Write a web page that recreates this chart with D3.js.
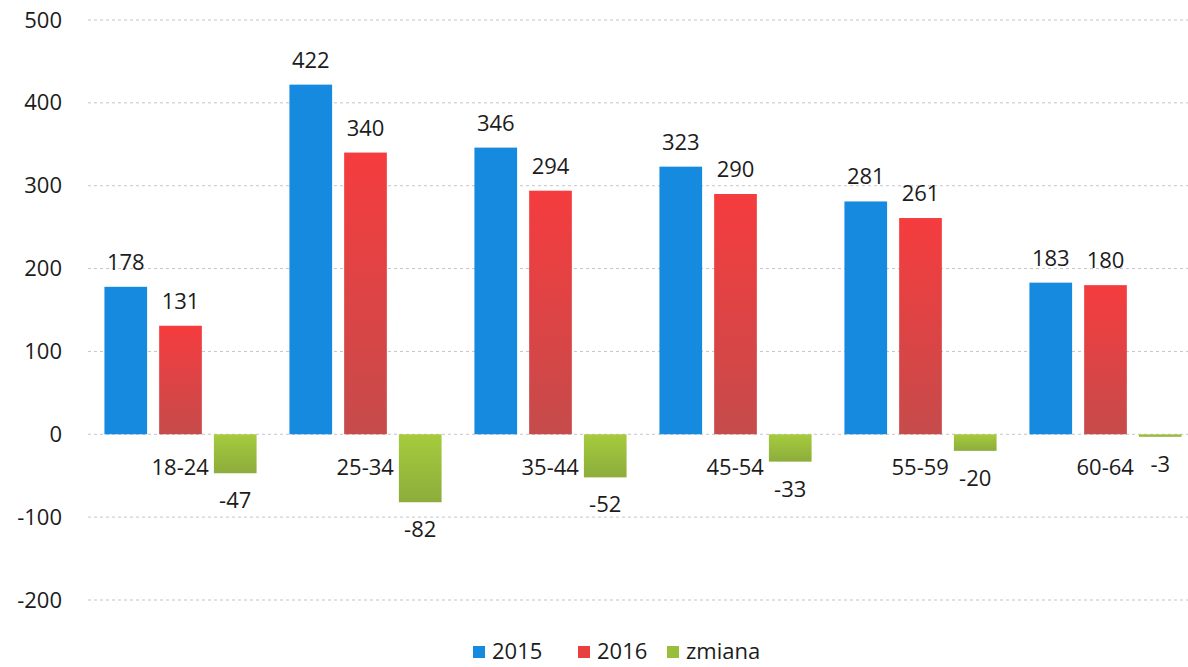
<!DOCTYPE html>
<html><head><meta charset="utf-8">
<script src="https://cdn.jsdelivr.net/npm/d3@7"></script>
<style>body{margin:0;background:#fff}svg{display:block}text{font-family:"Open Sans",sans-serif;fill:#1c1c1c}</style>
</head><body>
<svg id="c" width="1188" height="667"></svg>
<script>
const categories = ["18-24","25-34","35-44","45-54","55-59","60-64"];
const series = ["2015","2016","zmiana"];
const v2015 = [178,422,346,323,281,183];
const v2016 = [131,340,294,290,261,180];
const vZmiana = [-47,-82,-52,-33,-20,-3];
const yTicks = [-200,-100,0,100,200,300,400,500];

const FS = "22px";
const svg = d3.select("#c");
const defs = svg.append("defs");
function grad(id, top, bottom){
  const g = defs.append("linearGradient").attr("id",id).attr("x1",0).attr("y1",0).attr("x2",0).attr("y2",1);
  g.append("stop").attr("offset","0%").attr("stop-color",top);
  g.append("stop").attr("offset","100%").attr("stop-color",bottom);
}
grad("gBlue","#168ade","#168ade");
grad("gRed","#f53c3e","#c64b4b");
grad("gGreen","#a6cb3c","#8cad3c");
const fills = ["url(#gBlue)","url(#gRed)","url(#gGreen)"];
const legendFill = ["#168ade","#e8403f","#98bf3c"];

const y = d3.scaleLinear().domain([-200,500]).range([600,20]);
const x0 = d3.scaleBand().domain(categories).range([88,1198]).paddingInner(0).paddingOuter(0);
const x1 = d3.scaleBand().domain(series).range([0,x0.bandwidth()]).paddingInner(0.22).paddingOuter(0.3);

// gridlines
svg.append("g").selectAll("line").data(yTicks).join("line")
  .attr("x1",88).attr("x2",1188).attr("y1",d=>y(d)).attr("y2",d=>y(d))
  .attr("stroke","#c4c4cc").attr("stroke-width",1).attr("stroke-dasharray","3,3");

// y axis labels
const yAxis = d3.axisLeft(y).tickValues(yTicks).tickSize(0).tickPadding(0).tickFormat(d=>String(d));
const ya = svg.append("g").attr("transform","translate(62,0)").call(yAxis);
ya.select(".domain").remove();
ya.selectAll("text").style("font-size",FS).style("font-family","'Open Sans',sans-serif").attr("fill","#1c1c1c");

const rows = categories.map((c,i)=>({c, vals:[v2015[i],v2016[i],vZmiana[i]]}));
const g = svg.append("g");
rows.forEach(r=>{
  const gx = x0(r.c);
  r.vals.forEach((v,k)=>{
    const bx = gx + x1(series[k]);
    const w = x1.bandwidth();
    g.append("rect").attr("x",bx).attr("width",w)
      .attr("y",y(Math.max(0,v))).attr("height",Math.abs(y(v)-y(0)))
      .attr("fill",fills[k]);
    g.append("text").attr("x",bx+w/2).attr("text-anchor","middle")
      .attr("y", v>=0 ? y(v)-17 : y(v)+35)
      .style("font-size",FS).text(v);
  });
  g.append("text").attr("x",gx + x1("zmiana") - 5).attr("y",y(0)+41)
    .attr("text-anchor","end").style("font-size",FS).text(r.c);
});

// legend
const leg = svg.append("g");
const lx = [473,578,667];
series.forEach((s,k)=>{
  leg.append("rect").attr("x",lx[k]).attr("y",646).attr("width",12).attr("height",12).attr("fill",legendFill[k]);
  leg.append("text").attr("x",lx[k]+19).attr("y",659).style("font-size",FS).text(s);
});
</script>
</body></html>
